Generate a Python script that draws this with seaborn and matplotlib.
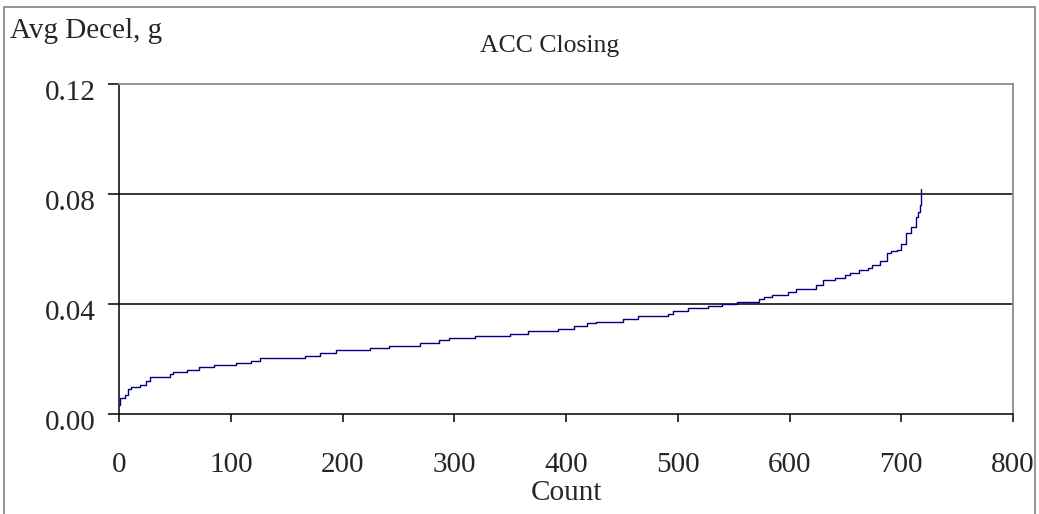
import numpy as np
import pandas as pd
from matplotlib import pyplot as plt
from matplotlib.patches import Rectangle
from matplotlib.transforms import ScaledTranslation
import seaborn as sns

# step breakpoints of the sorted curve
step_count = [0, 1, 5, 8, 11, 19, 24, 28, 46, 48, 61, 72, 85, 105, 118, 126,
              166, 180, 194, 225, 242, 269, 286, 295, 319, 350, 366, 393, 407,
              419, 427, 451, 464, 491, 496, 509, 527, 540, 553, 573, 577, 584,
              599, 606, 624, 630, 641, 650, 654, 662, 670, 674, 681, 687, 691,
              696, 700, 704, 709, 713, 715, 717, 718]
step_value = [0.0033, 0.0060, 0.0069, 0.0090, 0.0097, 0.0105, 0.0121, 0.0135,
              0.0144, 0.0152, 0.0159, 0.0170, 0.0177, 0.0187, 0.0194, 0.0204,
              0.0212, 0.0222, 0.0232, 0.0239, 0.0248, 0.0257, 0.0268, 0.0275,
              0.0285, 0.0292, 0.0302, 0.0310, 0.0319, 0.0330, 0.0336, 0.0345,
              0.0355, 0.0364, 0.0373, 0.0385, 0.0393, 0.0399, 0.0408, 0.0420,
              0.0427, 0.0433, 0.0444, 0.0453, 0.0468, 0.0487, 0.0496, 0.0505,
              0.0514, 0.0524, 0.0531, 0.0541, 0.0556, 0.0584, 0.0594, 0.0596,
              0.0620, 0.0659, 0.0681, 0.0718, 0.0736, 0.0760, 0.0817]

x_ticks = [0, 100, 200, 300, 400, 500, 600, 700, 800]
y_ticks = [0.00, 0.04, 0.08, 0.12]
y_tick_labels = ['0.00', '0.04', '0.08', '0.12']
grid_levels = [0.04, 0.08]

df = pd.DataFrame({'count': step_count, 'decel': step_value})

sns.set_style('white')
plt.rcParams['font.family'] = ['Liberation Serif', 'DejaVu Serif']

fig = plt.figure(figsize=(10.39, 5.14), dpi=100)
ax = fig.add_axes([119/1039, 100/514, 894/1039, 330/514])

for g in grid_levels:
    ax.axhline(g, color='black', lw=1.1, zorder=1)

sns.lineplot(data=df, x='count', y='decel', ax=ax, color='#000080',
             lw=1.0, drawstyle='steps-post', zorder=3)

ax.set_xlim(0, 800)
ax.set_ylim(0, 0.12)
ax.set_xticks(x_ticks)
ax.set_xticklabels([str(t) for t in x_ticks], fontsize=21)
ax.set_yticks(y_ticks)
ax.set_yticklabels(y_tick_labels, fontsize=21)
ax.tick_params(axis='x', direction='out', length=6, width=1.1, color='black',
               bottom=True, pad=21)
ax.tick_params(axis='y', direction='out', length=8, width=1.1, color='black',
               left=True, pad=9)
# Excel puts the value labels a little below their tick
for lab in ax.get_yticklabels():
    lab.set_transform(lab.get_transform() + ScaledTranslation(0, -0.06, fig.dpi_scale_trans))
ax.set_xlabel('Count', fontsize=21, labelpad=2)
ax.set_ylabel('')

for side in ['left', 'bottom']:
    ax.spines[side].set_color('black')
    ax.spines[side].set_linewidth(1.1)
for side in ['top', 'right']:
    ax.spines[side].set_color('#8c8c8c')
    ax.spines[side].set_linewidth(1.3)

# chart title sits a bit left of the plot centre
fig.text(550/1039, 1 - 46/514, 'ACC Closing', fontsize=18.5, ha='center', va='center')
fig.text(10/1039, 1 - 31/514, 'Avg Decel, g', fontsize=21, ha='left', va='center')

# outer chart border
fig.patches.append(Rectangle((4/1039, -0.02), 1031/1039, 1.02 - 7/514,
                             transform=fig.transFigure, fill=False,
                             edgecolor='#8c8c8c', lw=1.3))

plt.savefig('out.png', dpi=100)
